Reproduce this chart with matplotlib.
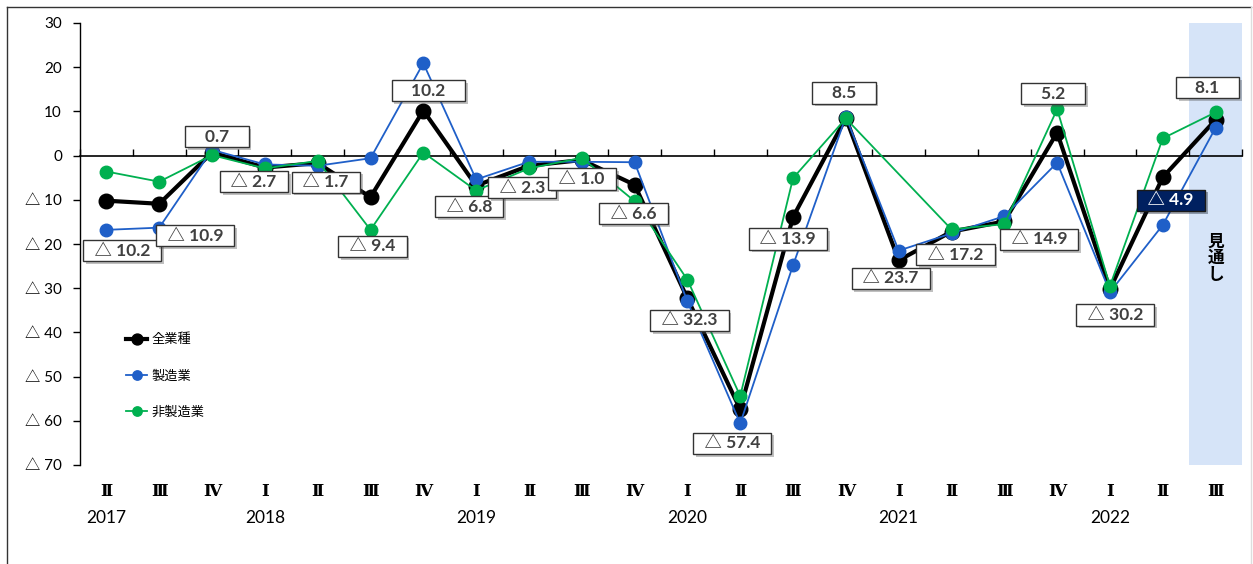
import numpy as np
import matplotlib
matplotlib.use("Agg")
import matplotlib.pyplot as plt
from matplotlib.lines import Line2D
import matplotlib.patheffects as pe
import matplotlib.transforms as mtransforms

# ---------------- data ----------------
quarters = ["Ⅱ", "Ⅲ", "Ⅳ", "Ⅰ", "Ⅱ", "Ⅲ", "Ⅳ", "Ⅰ", "Ⅱ", "Ⅲ", "Ⅳ",
            "Ⅰ", "Ⅱ", "Ⅲ", "Ⅳ", "Ⅰ", "Ⅱ", "Ⅲ", "Ⅳ", "Ⅰ", "Ⅱ", "Ⅲ"]
years = ["2017", "2018", "2019", "2020", "2021", "2022"]
year_pos = [0, 3, 7, 11, 15, 19]

all_industries = [-10.2, -10.9, 0.7, -2.7, -1.7, -9.4, 10.2, -6.8, -2.3, -1.0, -6.6,
                  -32.3, -57.4, -13.9, 8.5, -23.7, -17.2, -14.9, 5.2, -30.2, -4.9, 8.1]
manufacturing = [-16.8, -16.3, 1.3, -2.0, -2.3, -0.6, 20.9, -5.4, -1.4, -1.4, -1.5,
                 -33.0, -60.6, -24.8, 8.8, -21.5, -17.6, -13.7, -1.6, -30.9, -15.7, 6.3]
non_manufacturing = [-3.6, -5.9, 0.1, -2.9, -1.2, -16.8, 0.7, -7.9, -2.9, -0.5, -10.3,
                     -28.1, -54.4, -5.1, 8.4, np.nan, -16.7, -15.5, 10.5, -29.5, 3.9, 9.8]

series_names = ["全業種", "製造業", "非製造業"]
yticks = [30, 20, 10, 0, -10, -20, -30, -40, -50, -60, -70]

# label offsets (pixels: dx right, dy down) for the 全業種 value boxes
label_dx = [16, 36, 5, -11, 8, 2, 5, -7, -7, 0, -1, 2, -8, -5, -2, -8, 4, 35, -4, 5, 8, -8]
label_dy = [50, 32, -16, 14, 19, 49, -20, 21, 22, 19, 29, 22, 34, 22, -25, 18, 23, 18, -39, 26, 23, -32]

def fmt(v):
    return ("  △ " + f"{abs(v):.1f}  ") if v < 0 else f"    {v:.1f}    "

def ytick_fmt(v):
    return ("△ " + str(abs(v))) if v < 0 else str(v)

# ---------------- figure ----------------
W, H = 1253, 564
fig = plt.figure(figsize=(W / 100, H / 100), dpi=100)
ax = fig.add_axes([80 / W, 1 - 465 / H, (1242 - 80) / W, (465 - 23) / H])

x = np.arange(len(quarters))
ax.set_xlim(-0.5, len(quarters) - 0.5)
ax.set_ylim(-70, 30)

# forecast shading
ax.axvspan(len(quarters) - 1.5, len(quarters) - 0.5, color="#D6E4F8", zorder=0, lw=0)
ax.text(len(quarters) - 1, -23.2, "見\n通\nし", ha="center", va="center",
        fontsize=12, fontweight="bold", family=["Noto Sans CJK JP"],
        linespacing=0.9, zorder=2)

# series
black = np.array(all_industries)
blue = np.array(manufacturing)
green = np.array(non_manufacturing)
m = ~np.isnan(green)

ax.plot(x, black, color="black", lw=3.0, marker="o", ms=10.5, zorder=3, label=series_names[0])
ax.plot(x, blue, color="#1F5FC8", lw=1.3, marker="o", ms=9, zorder=4, label=series_names[1])
ax.plot(x[m], green[m], color="#00B050", lw=1.3, marker="o", ms=9, zorder=5, label=series_names[2])

# spines / ticks
ax.spines["top"].set_visible(False)
ax.spines["right"].set_visible(False)
ax.spines["bottom"].set_position(("data", 0))
ax.spines["bottom"].set_linewidth(1.2)
ax.spines["left"].set_linewidth(1.0)
ax.set_xticks(np.arange(-0.5, len(quarters)))
ax.set_xticklabels([])
ax.tick_params(axis="x", direction="in", length=5, width=1.0)
ax.set_yticks(yticks)
ax.set_yticklabels([ytick_fmt(v) for v in yticks], family=["Lato", "Noto Sans CJK JP"], fontsize=11)
ax.tick_params(axis="y", direction="out", length=5, width=1.0, pad=8)

# category labels below
trans = mtransforms.blended_transform_factory(ax.transData, ax.transAxes)
for i, q in enumerate(quarters):
    ax.text(i, -0.06, q, transform=trans, ha="center", va="center",
            fontsize=12, family=["DejaVu Serif"], fontweight="bold")
for yp, yl in zip(year_pos, years):
    ax.text(yp, -0.12, yl, transform=trans, ha="center", va="center",
            fontsize=12.5, family=["Lato", "DejaVu Sans"])

# value label boxes
shadow = [pe.SimplePatchShadow(offset=(2, -2), alpha=0.35), pe.Normal()]
for i, v in enumerate(all_industries):
    forecast_dark = (i == len(all_industries) - 2)
    fc = "#002060" if forecast_dark else "white"
    tc = "white" if forecast_dark else "#404040"
    ec = "#1a1a1a" if forecast_dark else "#333333"
    ann = ax.annotate(fmt(v), xy=(i, v), xytext=(label_dx[i], -label_dy[i]),
                      textcoords="offset pixels", ha="center", va="center",
                      fontsize=12.5, color=tc, fontweight="bold",
                      family=["Lato", "Noto Sans CJK JP"], zorder=10,
                      bbox=dict(boxstyle="square,pad=0.15", fc=fc, ec=ec, lw=1.0))
    ann.get_bbox_patch().set_path_effects(shadow)

# legend
leg = ax.legend(loc="upper left", bbox_to_anchor=(0.035, 0.31), frameon=False,
                prop={"family": ["Noto Sans CJK JP"], "size": 9.5},
                handlelength=1.6, handletextpad=0.3, labelspacing=1.75, markerscale=0.75,
                borderaxespad=0)

# outer frame
fig.add_artist(Line2D([7 / W, 7 / W], [0, 1 - 7 / H], transform=fig.transFigure, color="#333333", lw=1.0))
fig.add_artist(Line2D([7 / W, 1251 / W], [1 - 7 / H, 1 - 7 / H], transform=fig.transFigure, color="#333333", lw=1.0))
fig.add_artist(Line2D([1251 / W, 1251 / W], [0, 1 - 7 / H], transform=fig.transFigure, color="#DDDDDD", lw=1.0))

fig.savefig("out.png", dpi=100)
